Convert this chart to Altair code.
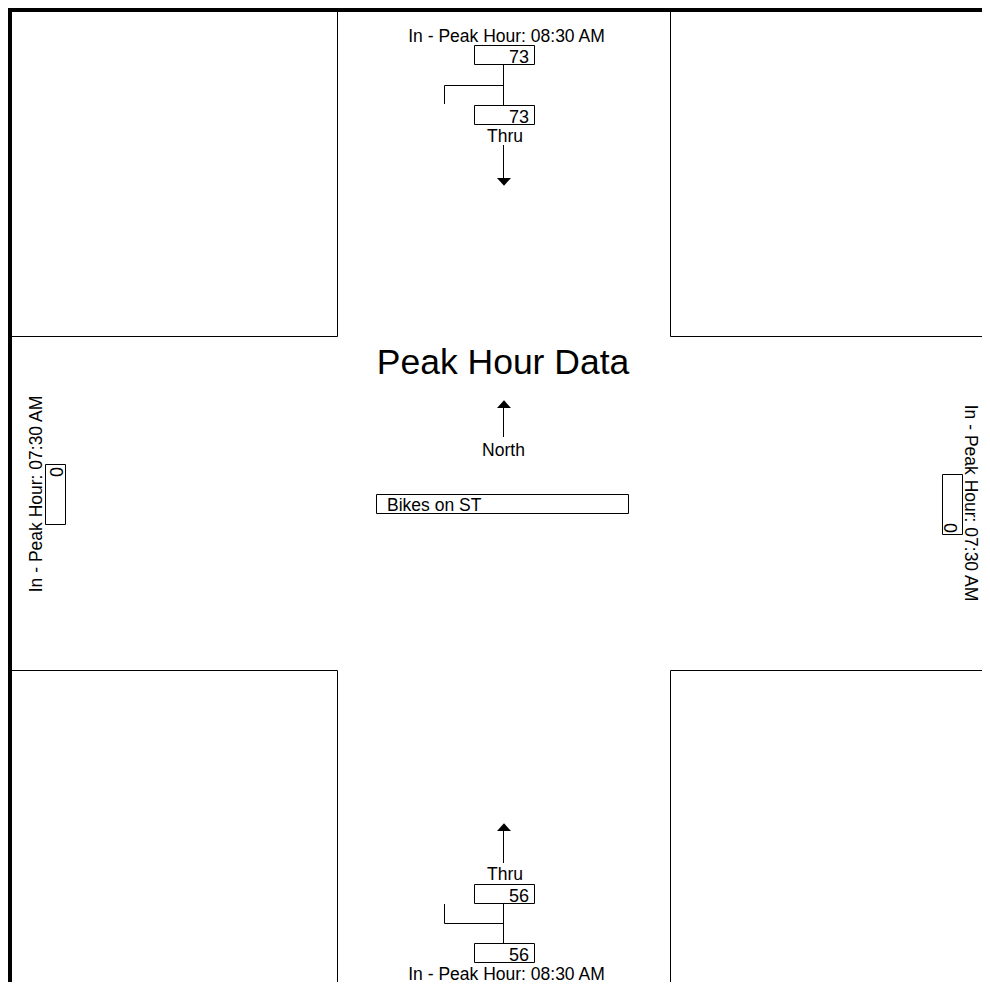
import altair as alt
import pandas as pd

# ---------------- data ----------------
approaches = ["North", "South", "West", "East"]
peak_hours = ["08:30 AM", "08:30 AM", "07:30 AM", "07:30 AM"]
in_volumes = [73, 56, 0, 0]
thru_volumes = [73, 56]
movement_label = "Thru"
title_text = "Peak Hour Data"
north_label = "North"
mode_label = "Bikes on ST"

# ---------------- layout (page pixel coordinates) ----------------
W, H = 974, 974
FONT = "Liberation Sans"
FS = 17.5
xs = alt.Scale(domain=[8, 8 + W], nice=False, zero=False)
ys = alt.Scale(domain=[8, 8 + H], nice=False, zero=False, reverse=True)

def X(f="x"):
    return alt.X(f + ":Q", scale=xs, axis=None)

def Y(f="y"):
    return alt.Y(f + ":Q", scale=ys, axis=None)

CX = 503.5  # approach centre line
RIGHT, BOTTOM = 8 + W, 8 + H

# thin line segments
segments = pd.DataFrame([
    # quadrant corners
    dict(x=337.5, y=8, x2=337.5, y2=336.5),
    dict(x=8, y=336.5, x2=337.5, y2=336.5),
    dict(x=670.5, y=8, x2=670.5, y2=336.5),
    dict(x=670.5, y=336.5, x2=RIGHT, y2=336.5),
    dict(x=8, y=670.5, x2=337.5, y2=670.5),
    dict(x=337.5, y=670.5, x2=337.5, y2=BOTTOM),
    dict(x=670.5, y=670.5, x2=RIGHT, y2=670.5),
    dict(x=670.5, y=670.5, x2=670.5, y2=BOTTOM),
    # north approach
    dict(x=CX, y=64.5, x2=CX, y2=105.5),
    dict(x=444.5, y=85.5, x2=CX, y2=85.5),
    dict(x=444.5, y=85.5, x2=444.5, y2=104),
    dict(x=CX, y=145, x2=CX, y2=179),
    # south approach
    dict(x=CX, y=830, x2=CX, y2=863),
    dict(x=CX, y=903.5, x2=CX, y2=943.5),
    dict(x=444.5, y=923.5, x2=CX, y2=923.5),
    dict(x=444.5, y=904, x2=444.5, y2=923.5),
    # north arrow
    dict(x=CX, y=407, x2=CX, y2=437),
])

frame = pd.DataFrame([
    dict(x=8, y=10, x2=RIGHT, y2=10),
    dict(x=10, y=8, x2=10, y2=BOTTOM),
])

boxes = pd.DataFrame([
    dict(x=474.5, y=45.5, x2=534.5, y2=64.5),
    dict(x=474.5, y=105.5, x2=534.5, y2=124.5),
    dict(x=474.5, y=884.5, x2=534.5, y2=903.5),
    dict(x=474.5, y=943.5, x2=534.5, y2=962.5),
    dict(x=376.5, y=494.5, x2=628.5, y2=513.5),
    dict(x=45.5, y=464.5, x2=65.5, y2=524.5),
    dict(x=942.5, y=474.5, x2=962.5, y2=534.5),
])

down_heads = pd.DataFrame([dict(x=504, y=178)])
up_heads = pd.DataFrame([dict(x=504, y=831), dict(x=504, y=408)])

center_texts = pd.DataFrame([
    dict(text=f"In - Peak Hour: {peak_hours[0]}", x=506.5, y=42, fs=FS, angle=0),
    dict(text=movement_label, x=505, y=142, fs=FS, angle=0),
    dict(text=movement_label, x=505, y=880, fs=FS, angle=0),
    dict(text=f"In - Peak Hour: {peak_hours[1]}", x=506.5, y=979.5, fs=FS, angle=0),
    dict(text=title_text, x=503, y=374, fs=35.5, angle=0),
    dict(text=north_label, x=503.5, y=456, fs=FS, angle=0),
    dict(text=f"In - Peak Hour: {peak_hours[2]}", x=42, y=494, fs=FS, angle=270),
    dict(text=f"In - Peak Hour: {peak_hours[3]}", x=965, y=503, fs=FS, angle=90),
])

number_texts = pd.DataFrame([
    dict(text=str(in_volumes[0]), x=529, y=63, angle=0),
    dict(text=str(thru_volumes[0]), x=529, y=123, angle=0),
    dict(text=str(thru_volumes[1]), x=529, y=902, angle=0),
    dict(text=str(in_volumes[1]), x=529, y=961, angle=0),
    dict(text=str(in_volumes[2]), x=63, y=467, angle=270),
    dict(text=str(in_volumes[3]), x=944, y=533, angle=90),
])

left_texts = pd.DataFrame([dict(text=mode_label, x=387, y=511)])

# ---------------- layers ----------------
rules = alt.Chart(segments).mark_rule(color="black", strokeWidth=1).encode(
    x=X(), y=Y(), x2="x2:Q", y2="y2:Q")
thick = alt.Chart(frame).mark_rule(color="black", strokeWidth=4).encode(
    x=X(), y=Y(), x2="x2:Q", y2="y2:Q")
rects = alt.Chart(boxes).mark_rect(fill="white", stroke="black", strokeWidth=1).encode(
    x=X(), y=Y(), x2="x2:Q", y2="y2:Q")
downs = alt.Chart(down_heads).mark_point(
    shape="M-1,0L1,0L0,1.1Z", filled=True, color="black", opacity=1, size=196, strokeWidth=0
).encode(x=X(), y=Y())
ups = alt.Chart(up_heads).mark_point(
    shape="M-1,0L1,0L0,-1.1Z", filled=True, color="black", opacity=1, size=196, strokeWidth=0
).encode(x=X(), y=Y())
ctext = alt.Chart(center_texts).mark_text(
    font=FONT, color="black", align="center", baseline="alphabetic"
).encode(x=X(), y=Y(), text="text:N",
         size=alt.Size("fs:Q", scale=None), angle=alt.Angle("angle:Q", scale=None))
ntext = alt.Chart(number_texts).mark_text(
    font=FONT, color="black", align="right", baseline="alphabetic", fontSize=18
).encode(x=X(), y=Y(), text="text:N", angle=alt.Angle("angle:Q", scale=None))
ltext = alt.Chart(left_texts).mark_text(
    font=FONT, color="black", align="left", baseline="alphabetic", fontSize=FS
).encode(x=X(), y=Y(), text="text:N")

chart = alt.layer(rules, thick, rects, downs, ups, ctext, ntext, ltext).properties(
    width=W, height=H,
    autosize=alt.AutoSizeParams(type="none"),
    padding=0,
    background="white",
).configure_view(stroke=None)

chart.save("out.html", embed_options={"renderer": "svg", "actions": False})
